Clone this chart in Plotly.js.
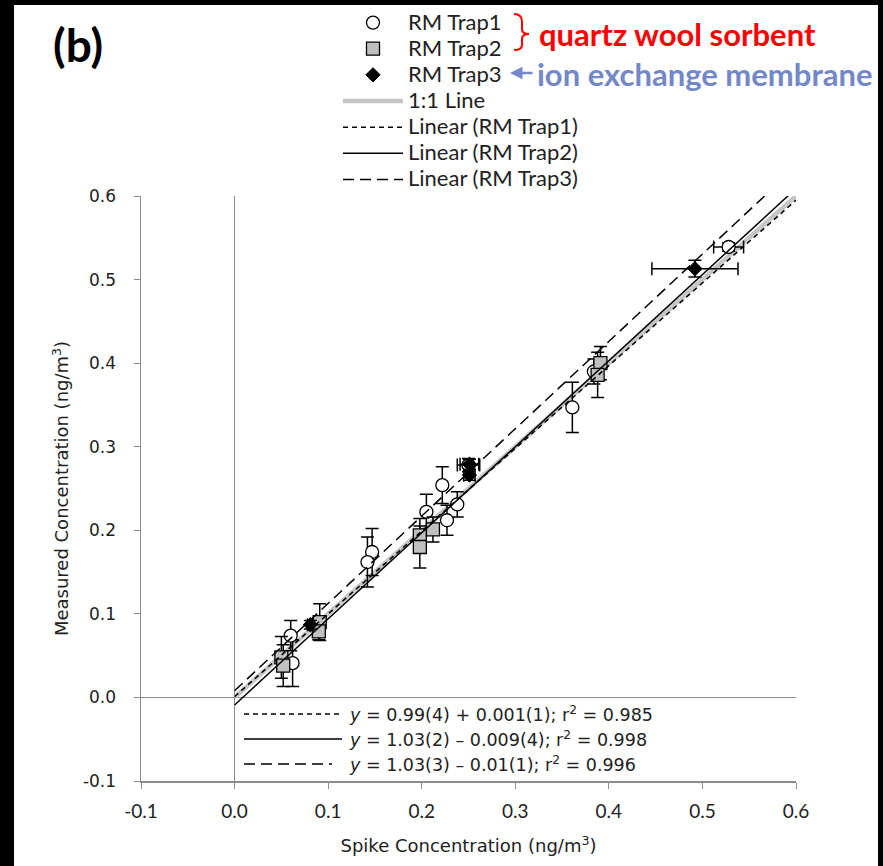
<!DOCTYPE html>
<html>
<head>
<meta charset="utf-8">
<script src="https://cdn.plot.ly/plotly-3.0.1.min.js"></script>
<style>html,body{margin:0;padding:0;background:#000;}#chart{width:883px;height:866px;}</style>
</head>
<body>
<div id="chart"></div>
<script>
// ---- data ----
var trap1X  = [0.062, 0.060, 0.147, 0.142, 0.205, 0.222, 0.238, 0.227, 0.250, 0.361, 0.384, 0.528];
var trap1Y  = [0.041, 0.074, 0.174, 0.162, 0.222, 0.254, 0.231, 0.212, 0.278, 0.347, 0.390, 0.539];
var trap1EY = [0.028, 0.018, 0.028, 0.030, 0.021, 0.022, 0.015, 0.018, 0.008, 0.030, 0.015, 0.005];
var trap1EX = [0, 0, 0, 0, 0, 0, 0, 0, 0.012, 0, 0, 0.016];

var trap2X  = [0.050, 0.052, 0.091, 0.090, 0.198, 0.198, 0.212, 0.391, 0.388];
var trap2Y  = [0.048, 0.038, 0.090, 0.079, 0.194, 0.180, 0.201, 0.400, 0.386];
var trap2EY = [0.025, 0.025, 0.022, 0.010, 0.020, 0.025, 0.015, 0.020, 0.027];

var trap3X  = [0.081, 0.251, 0.251, 0.492];
var trap3Y  = [0.087, 0.279, 0.266, 0.513];
var trap3EY = [0.005, 0.006, 0.006, 0.010];
var trap3EX = [0.003, 0.010, 0.006, 0.046];

var lineX   = [0, 0.6];
var oneToOneY = [0, 0.6];
var fit1Y   = [0.001, 0.595];
var fit2Y   = [-0.009, 0.609];
var fit3Y   = [0.008, 0.635];

var seriesNames = ['RM Trap1', 'RM Trap2', 'RM Trap3', '1:1 Line', 'Linear (RM Trap1)', 'Linear (RM Trap2)', 'Linear (RM Trap3)'];
var equations = [
  '<i>y</i> = 0.99(4) + 0.001(1); r<sup>2</sup> = 0.985',
  '<i>y</i> = 1.03(2) \u2013 0.009(4); r<sup>2</sup> = 0.998',
  '<i>y</i> = 1.03(3) \u2013 0.01(1); r<sup>2</sup> = 0.996'
];
var xTicks = [-0.1, 0.0, 0.1, 0.2, 0.3, 0.4, 0.5, 0.6];
var yTicks = [-0.1, 0.0, 0.1, 0.2, 0.3, 0.4, 0.5, 0.6];

// ---- layout geometry (pixels) ----
var W = 883, H = 866, L = 141, R = 796, T = 196, B = 781;
function px(x) { return (x - L) / (R - L); }
function py(y) { return (B - y) / (B - T); }
function legName(s) { return '<span style="font-size:22px">' + s + '</span>'; }

var errStyle = {color: '#000', thickness: 1.5, width: 6.5};
var traces = [
  {x: lineX, y: oneToOneY, mode: 'lines', name: legName(seriesNames[3]), legendrank: 4,
   line: {color: '#c6c6c6', width: 4.5}},
  {x: trap1X, y: trap1Y, mode: 'markers', name: legName(seriesNames[0]), legendrank: 1,
   error_y: Object.assign({type: 'data', array: trap1EY, visible: true}, errStyle),
   error_x: Object.assign({type: 'data', array: trap1EX, visible: true}, errStyle),
   marker: {symbol: 'circle', size: 13, color: '#fff', line: {color: '#000', width: 1.3}}},
  {x: trap2X, y: trap2Y, mode: 'markers', name: legName(seriesNames[1]), legendrank: 2,
   error_y: Object.assign({type: 'data', array: trap2EY, visible: true}, errStyle),
   marker: {symbol: 'square', size: 13, color: '#c0c0c0', line: {color: '#000', width: 1.3}}},
  {x: trap3X, y: trap3Y, mode: 'markers', name: legName(seriesNames[2]), legendrank: 3,
   error_y: Object.assign({type: 'data', array: trap3EY, visible: true}, errStyle),
   error_x: Object.assign({type: 'data', array: trap3EX, visible: true}, errStyle),
   marker: {symbol: 'diamond', size: 11, color: '#000', line: {color: '#000', width: 1}}},
  {x: lineX, y: fit1Y, mode: 'lines', name: legName(seriesNames[4]), legendrank: 5,
   line: {color: '#000', width: 1.5, dash: '5px,4px'}},
  {x: lineX, y: fit2Y, mode: 'lines', name: legName(seriesNames[5]), legendrank: 6,
   line: {color: '#000', width: 1.5}},
  {x: lineX, y: fit3Y, mode: 'lines', name: legName(seriesNames[6]), legendrank: 7,
   line: {color: '#000', width: 1.5, dash: '11px,6px'}}
];

var txt = '#222';
var shapes = [
  {type: 'rect', xref: 'paper', yref: 'paper', layer: 'below',
   x0: px(14), x1: px(878), y0: py(866), y1: py(5), fillcolor: '#fff', line: {width: 0}},
  // equation line samples
  {type: 'line', xref: 'paper', yref: 'paper', x0: px(244), x1: px(340), y0: py(714), y1: py(714),
   line: {color: '#000', width: 1.5, dash: '5px,4px'}},
  {type: 'line', xref: 'paper', yref: 'paper', x0: px(244), x1: px(342), y0: py(739), y1: py(739),
   line: {color: '#000', width: 1.5}},
  {type: 'line', xref: 'paper', yref: 'paper', x0: px(244), x1: px(332), y0: py(764), y1: py(764),
   line: {color: '#000', width: 1.5, dash: '11px,6px'}},
  // red bracket
  {type: 'path', xref: 'paper', yref: 'paper', line: {color: '#ff0000', width: 2},
   path: 'M' + px(514) + ',' + py(14) + ' Q' + px(522) + ',' + py(14) + ' ' + px(522) + ',' + py(22) +
         ' L' + px(522) + ',' + py(29) + ' Q' + px(522) + ',' + py(34) + ' ' + px(529) + ',' + py(34) +
         ' Q' + px(522) + ',' + py(34) + ' ' + px(522) + ',' + py(39) +
         ' L' + px(522) + ',' + py(45) + ' Q' + px(522) + ',' + py(50) + ' ' + px(514) + ',' + py(50)}
];

var eqText = equations.map(function(e){ return '<span style="font-size:17.5px">' + e + '</span>'; }).join('<br>');
var annotations = [
  {text: '(b)', xref: 'paper', yref: 'paper', x: px(78), y: py(44), xanchor: 'center', yanchor: 'middle',
   showarrow: false, font: {family: 'Lato', size: 46, color: '#000', weight: 'bold'}},
  {text: 'quartz wool sorbent', xref: 'paper', yref: 'paper', x: px(537), y: py(34), xanchor: 'left', yanchor: 'middle',
   showarrow: false, font: {family: 'Lato', size: 31, color: '#ff0000', weight: 'bold'}},
  {text: 'ion exchange membrane', xref: 'paper', yref: 'paper', x: px(535), y: py(74), xanchor: 'left', yanchor: 'middle',
   showarrow: false, font: {family: 'Lato', size: 31, color: '#7388c8', weight: 'bold'}},
  {text: '', xref: 'paper', yref: 'paper', x: px(510), y: py(73), ax: 24, ay: 0, showarrow: true,
   arrowhead: 2, arrowsize: 1, arrowwidth: 2.5, arrowcolor: '#7388c8'},
  {text: eqText, xref: 'paper', yref: 'paper', x: px(347), y: py(739), xanchor: 'left', yanchor: 'middle',
   align: 'left', showarrow: false, font: {family: 'DejaVu Sans', size: 19.2, color: txt}}
];

var layout = {
  width: W, height: H,
  paper_bgcolor: '#000', plot_bgcolor: '#fff',
  margin: {l: L, r: W - R, t: T, b: H - B, autoexpand: false},
  showlegend: true,
  legend: {x: px(338), y: py(4.5), xanchor: 'left', yanchor: 'top', bgcolor: 'rgba(0,0,0,0)',
    itemwidth: 60, font: {family: 'Lato', size: 17.8, color: txt}},
  xaxis: {range: [-0.1, 0.6], tickvals: xTicks, ticktext: xTicks.map(function(v){return v.toFixed(1);}),
    showgrid: false, zeroline: true, zerolinecolor: '#8c8c8c', zerolinewidth: 1.2,
    showline: true, linecolor: '#8c8c8c', linewidth: 1.5, ticks: 'outside', ticklen: 6, tickcolor: '#8c8c8c',
    ticklabelstandoff: 7,
    tickfont: {family: 'Lato', size: 19, color: txt},
    title: {text: 'Spike Concentration (ng/m<sup>3</sup>)', standoff: 18, font: {family: 'DejaVu Sans', size: 18, color: txt}}},
  yaxis: {range: [-0.1, 0.6], tickvals: yTicks, ticktext: yTicks.map(function(v){return v.toFixed(1);}),
    showgrid: false, zeroline: true, zerolinecolor: '#8c8c8c', zerolinewidth: 1.2,
    showline: true, linecolor: '#8c8c8c', linewidth: 1.5, ticks: 'outside', ticklen: 6, tickcolor: '#8c8c8c',
    ticklabelstandoff: 14,
    tickfont: {family: 'DejaVu Sans', size: 17, color: txt},
    title: {text: 'Measured Concentration (ng/m<sup>3</sup>)', standoff: 9, font: {family: 'DejaVu Sans', size: 18, color: txt}}},
  shapes: shapes,
  annotations: annotations
};

Plotly.newPlot('chart', traces, layout, {displayModeBar: false, staticPlot: true});
</script>
</body>
</html>
